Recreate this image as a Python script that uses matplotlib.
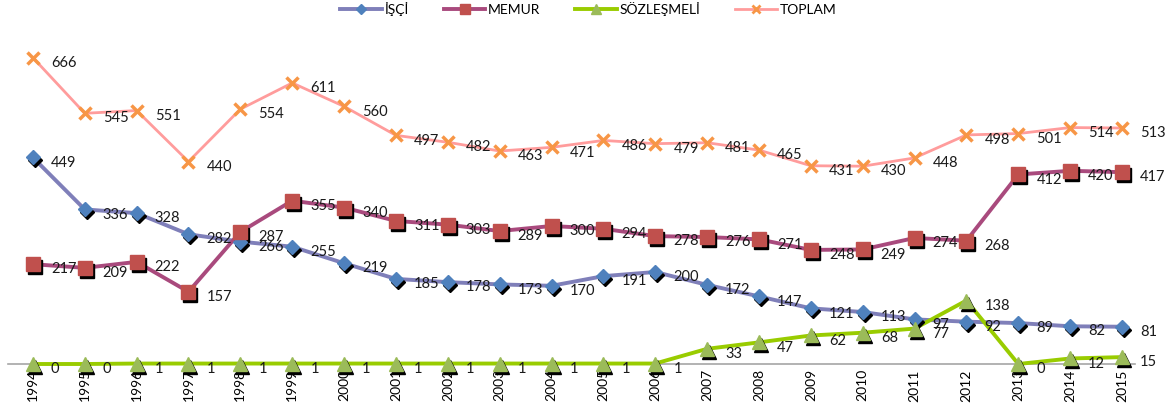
import matplotlib.pyplot as plt
from matplotlib.transforms import offset_copy

years = [str(y) for y in range(1994, 2016)]
isci = [449, 336, 328, 282, 266, 255, 219, 185, 178, 173, 170, 191, 200, 172, 147, 121, 113, 97, 92, 89, 82, 81]
memur = [217, 209, 222, 157, 287, 355, 340, 311, 303, 289, 300, 294, 278, 276, 271, 248, 249, 274, 268, 412, 420, 417]
sozlesmeli = [0, 0, 1, 1, 1, 1, 1, 1, 1, 1, 1, 1, 1, 33, 47, 62, 68, 77, 138, 0, 12, 15]
toplam = [666, 545, 551, 440, 554, 611, 560, 497, 482, 463, 471, 486, 479, 481, 465, 431, 430, 448, 498, 501, 514, 513]

plt.rcParams['font.family'] = ['Lato', 'DejaVu Sans']

fig = plt.figure(figsize=(11.69, 4.06), dpi=100)
ax = fig.add_axes([8 / 1169, 41 / 406, 1127 / 1169, 322 / 406])
x = list(range(len(years)))

series = [
    ("İŞÇİ", isci, "#7f7fb9", "D", "#4f81bd", 7, 2.8, False),
    ("MEMUR", memur, "#a94a7d", "s", "#c0504d", 10, 2.8, False),
    ("SÖZLEŞMELİ", sozlesmeli, "#99cc00", "^", "#9bbb59", 10, 2.8, False),
    ("TOPLAM", toplam, "#ff9c9c", "x", "#f79646", 8, 2.0, True),
]

shadow = offset_copy(ax.transData, fig=fig, x=2, y=-3, units='dots')

for name, vals, lc, mk, mc, ms, lw, is_x in series:
    ax.plot(x, vals, color=lc, lw=lw, zorder=2, clip_on=False)
    if not is_x:
        ax.plot(x, vals, ls='none', marker=mk, ms=ms, color='black', transform=shadow,
                zorder=3, clip_on=False)
        ax.plot(x, vals, ls='none', marker=mk, ms=ms, markerfacecolor=mc,
                markeredgecolor=mc, zorder=4, clip_on=False)
    else:
        ax.plot(x, vals, ls='none', marker=mk, ms=ms, mew=2.5, color=mc, zorder=4, clip_on=False)
    for xi, v in zip(x, vals):
        ax.annotate(str(v), (xi, v), xytext=(13, -3), textcoords='offset points',
                    fontsize=10.5, va='center', ha='left', color='#1a1a1a', zorder=5)

# legend handles
handles = []
for name, vals, lc, mk, mc, ms, lw, is_x in series:
    h, = ax.plot([], [], color=lc, lw=lw, marker=mk, ms=ms * 0.7,
                 markerfacecolor=mc, markeredgecolor=mc, mew=2 if is_x else 1)
    handles.append(h)
ax.legend(handles, [s[0] for s in series], loc='upper center', bbox_to_anchor=(0.515, 1.165),
          ncol=4, frameon=False, fontsize=10, handlelength=3, columnspacing=2.5, handletextpad=0.2)

ax.set_xlim(-0.48, 21.25)
ax.set_ylim(0, 700)
ax.set_xticks(x)
ax.set_xticklabels(years, rotation=90, fontsize=10)
ax.tick_params(axis='x', length=0, pad=3)
ax.set_yticks([])
for s in ['top', 'right', 'left']:
    ax.spines[s].set_visible(False)
ax.spines['bottom'].set_color('#a6a6a6')
ax.spines['bottom'].set_linewidth(1.2)
ax.spines['bottom'].set_zorder(1)

fig.savefig('out.png', dpi=100)
